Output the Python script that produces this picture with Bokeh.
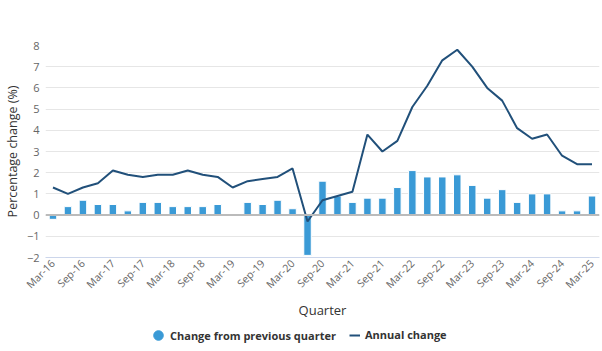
import math
from bokeh.plotting import figure
from bokeh.layouts import column
from bokeh.models import (ColumnDataSource, Range1d, FixedTicker, Span, Legend, LegendItem, Label)
from bokeh.embed import file_html
from bokeh.resources import INLINE

quarters = ["Mar-16", "Jun-16", "Sep-16", "Dec-16", "Mar-17", "Jun-17", "Sep-17", "Dec-17",
            "Mar-18", "Jun-18", "Sep-18", "Dec-18", "Mar-19", "Jun-19", "Sep-19", "Dec-19",
            "Mar-20", "Jun-20", "Sep-20", "Dec-20", "Mar-21", "Jun-21", "Sep-21", "Dec-21",
            "Mar-22", "Jun-22", "Sep-22", "Dec-22", "Mar-23", "Jun-23", "Sep-23", "Dec-23",
            "Mar-24", "Jun-24", "Sep-24", "Dec-24", "Mar-25"]
quarterly_change = [-0.2, 0.4, 0.7, 0.5, 0.5, 0.2, 0.6, 0.6,
                    0.4, 0.4, 0.4, 0.5, 0.0, 0.6, 0.5, 0.7,
                    0.3, -1.9, 1.6, 0.9, 0.6, 0.8, 0.8, 1.3,
                    2.1, 1.8, 1.8, 1.9, 1.4, 0.8, 1.2, 0.6,
                    1.0, 1.0, 0.2, 0.2, 0.9]
annual_change = [1.3, 1.0, 1.3, 1.5, 2.1, 1.9, 1.8, 1.9,
                 1.9, 2.1, 1.9, 1.8, 1.3, 1.6, 1.7, 1.8,
                 2.2, -0.3, 0.7, 0.9, 1.1, 3.8, 3.0, 3.5,
                 5.1, 6.1, 7.3, 7.8, 7.0, 6.0, 5.4, 4.1,
                 3.6, 3.8, 2.8, 2.4, 2.4]
y_ticks = [-2, -1, 0, 1, 2, 3, 4, 5, 6, 7, 8]
series_names = ["Change from previous quarter", "Annual change"]
x_title = "Quarter"
y_title = "Percentage change (%)"

BAR = "#3a9ad6"
LINE = "#21507a"
FONT = "Open Sans"

idx = list(range(len(quarters)))
src = ColumnDataSource(dict(x=idx, q=quarterly_change, a=annual_change, label=quarters))

MAIN_H = 299
p = figure(width=602, height=MAIN_H, output_backend="svg", toolbar_location=None,
           x_range=Range1d(-0.5, len(quarters) - 0.5), y_range=Range1d(-2, 8),
           min_border_left=45, min_border_right=3, min_border_top=45, min_border_bottom=41)
p.outline_line_color = None
p.background_fill_color = "white"

p.add_layout(Span(location=0, dimension="width", line_color="#bbbbbb", line_width=2))

p.vbar(x="x", top="q", bottom=0, width=0.5, source=src, fill_color=BAR,
       line_color="white", line_width=1)
p.line(x="x", y="a", source=src, line_color=LINE, line_width=2)

# axes
p.xaxis.ticker = FixedTicker(ticks=idx[::2])
p.xaxis.major_label_overrides = {i: quarters[i] for i in idx}
p.xaxis.major_label_orientation = math.pi / 4
p.xaxis.major_tick_line_color = None
p.xaxis.major_tick_out = 0
p.xaxis.major_tick_in = 0
p.xaxis.minor_tick_line_color = None
p.xaxis.minor_tick_out = 0
p.xaxis.axis_line_color = "#ccd6eb"
p.xaxis.major_label_text_color = "#666666"
p.xaxis.major_label_text_font = FONT
p.xaxis.major_label_text_font_size = "10.5px"
p.xaxis.major_label_standoff = 4

p.yaxis.ticker = FixedTicker(ticks=y_ticks)
p.yaxis.axis_line_color = None
p.yaxis.major_tick_line_color = None
p.yaxis.major_tick_out = 0
p.yaxis.major_tick_in = 0
p.yaxis.minor_tick_line_color = None
p.yaxis.minor_tick_out = 0
p.yaxis.major_label_text_color = "#666666"
p.yaxis.major_label_text_font = FONT
p.yaxis.major_label_text_font_size = "11px"
p.yaxis.major_label_standoff = 6
p.yaxis.axis_label = y_title
p.yaxis.axis_label_text_font = FONT
p.yaxis.axis_label_text_font_style = "normal"
p.yaxis.axis_label_text_font_size = "12.5px"
p.yaxis.axis_label_text_color = "#333333"
p.yaxis.axis_label_standoff = 3

p.xgrid.grid_line_color = None
p.ygrid.grid_line_color = "#e6e6e6"
p.ygrid.grid_line_width = 1

# strip below: x-axis title and legend (frame is aligned with the main plot's frame)
LG_H = 351 - MAIN_H
FRAME_LEFT = 45
lg = figure(width=602, height=LG_H, output_backend="svg", toolbar_location=None,
            x_range=Range1d(0, 1), y_range=Range1d(0, 1),
            x_axis_location=None, y_axis_location=None,
            min_border_left=0, min_border_right=0, min_border_top=0, min_border_bottom=0)
lg.outline_line_color = None
lg.xgrid.visible = False
lg.ygrid.visible = False
lg.add_layout(Label(x=322 - FRAME_LEFT, y=LG_H - 10, x_units="screen", y_units="screen",
                    text=x_title, text_align="center", text_baseline="middle",
                    text_font=FONT, text_font_size="13px", text_color="#333333"))
# legend-only renderers placed outside the visible range
dot = lg.scatter(x=[-100], y=[-100], marker="circle", size=11, fill_color=BAR, line_color=BAR)
ln = lg.line(x=[-100, -90], y=[-100, -100], line_color=LINE, line_width=2)
common = dict(orientation="horizontal", label_text_font=FONT, label_text_font_style="bold",
              label_text_font_size="11px", label_text_color="#333333",
              padding=0, margin=0, border_line_color=None, background_fill_alpha=0)
legend1 = Legend(items=[LegendItem(label=series_names[0], renderers=[dot])],
                 location=(146 - FRAME_LEFT, 4), glyph_width=24, glyph_height=24,
                 label_standoff=-2, **common)
legend2 = Legend(items=[LegendItem(label=series_names[1], renderers=[ln])],
                 location=(349 - FRAME_LEFT, 9), glyph_width=11, glyph_height=12,
                 label_standoff=5, **common)
lg.add_layout(legend1, "center")
lg.add_layout(legend2, "center")

layout = column(p, lg, spacing=0)
open("out.html", "w").write(file_html(layout, INLINE))
